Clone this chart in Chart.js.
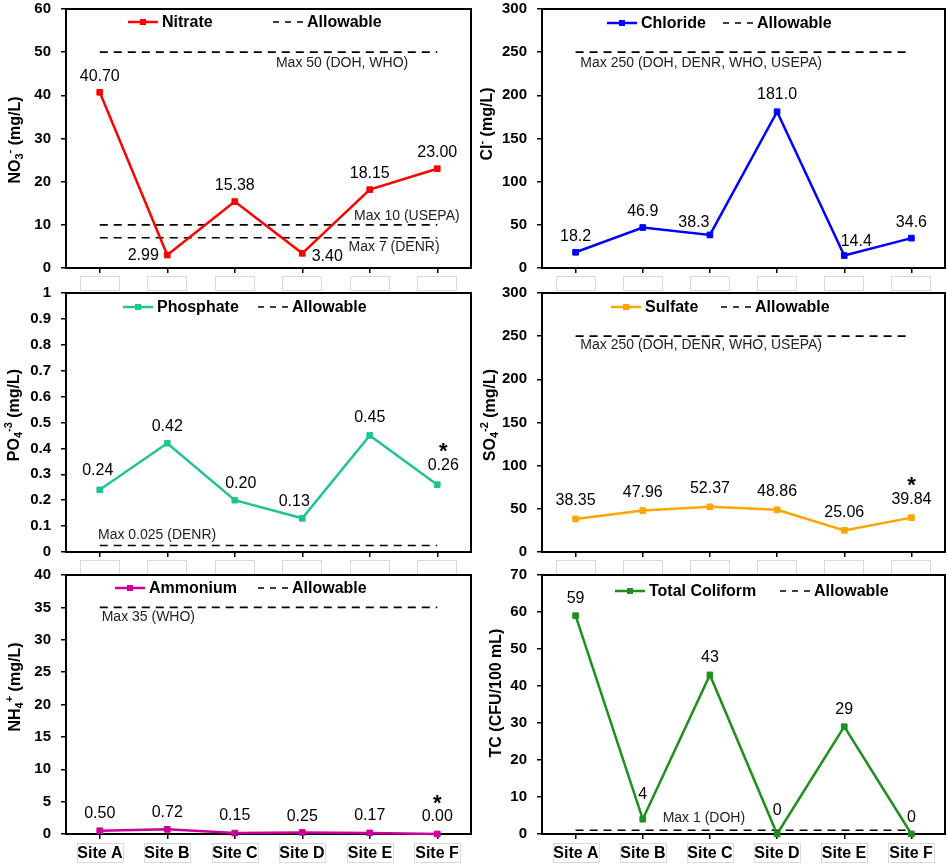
<!DOCTYPE html>
<html>
<head>
<meta charset="utf-8">
<title>Water quality parameters by sampling site</title>
<script src="https://cdn.jsdelivr.net/npm/chart.js@4.4.1/dist/chart.umd.min.js"></script>
<style>
  html, body { margin: 0; padding: 0; background: #fff; }
  body { position: relative; width: 947px; height: 865px; overflow: hidden; }
  canvas { position: absolute; }
</style>
</head>
<body>
<canvas id="nitrate"></canvas>
<canvas id="chloride"></canvas>
<canvas id="phosphate"></canvas>
<canvas id="sulfate"></canvas>
<canvas id="ammonium"></canvas>
<canvas id="coliform"></canvas>
<script>
// ---- data -------------------------------------------------------------
const sites = ['Site A', 'Site B', 'Site C', 'Site D', 'Site E', 'Site F'];

const nitrate   = [40.70, 2.99, 15.38, 3.40, 18.15, 23.00];
const chloride  = [18.2, 46.9, 38.3, 181.0, 14.4, 34.6];
const phosphate = [0.24, 0.42, 0.20, 0.13, 0.45, 0.26];
const sulfate   = [38.35, 47.96, 52.37, 48.86, 25.06, 39.84];
const ammonium  = [0.50, 0.72, 0.15, 0.25, 0.17, 0.00];
const totalColiform = [59, 4, 43, 0, 29, 0];

// allowable limits and their captions
const nitrateLimits = [50, 10, 7];
const nitrateLimitText = ['Max 50 (DOH, WHO)', 'Max 10 (USEPA)', 'Max 7 (DENR)'];
const chlorideLimits = [250];
const chlorideLimitText = ['Max 250 (DOH, DENR, WHO, USEPA)'];
const phosphateLimits = [0.025];
const phosphateLimitText = ['Max 0.025 (DENR)'];
const sulfateLimits = [250];
const sulfateLimitText = ['Max 250 (DOH, DENR, WHO, USEPA)'];
const ammoniumLimits = [35];
const ammoniumLimitText = ['Max 35 (WHO)'];
const coliformLimits = [1];
const coliformLimitText = ['Max 1 (DOH)'];

// y-axis ranges [max, step]
const nitrateAxis = [60, 10];
const chlorideAxis = [300, 50];
const phosphateAxis = [1, 0.1];
const sulfateAxis = [300, 50];
const ammoniumAxis = [40, 5];
const coliformAxis = [70, 10];

// ---- layout -----------------------------------------------------------
const FONT = '"Liberation Sans", Arial, Helvetica, sans-serif';
const cols = [
  { x: 0,   w: 474, axisW: 66, padR: 3 },
  { x: 474, w: 473, axisW: 68, padR: 2 }
];
const rows = [
  { y: 0,   h: 295, padT: 9,  axisH: 27, siteLabels: false },
  { y: 283, h: 295, padT: 10, axisH: 26, siteLabels: false },
  { y: 565, h: 300, padT: 10, axisH: 31, siteLabels: true }
];

// title parts: [text, kind] where kind 0 = normal, 1 = subscript, 2 = superscript
const panels = [
  { id: 'nitrate', col: 0, row: 0, name: 'Nitrate', color: '#FF0000',
    values: nitrate, axis: nitrateAxis, decimals: 2,
    limits: nitrateLimits, limitText: nitrateLimitText,
    limitAt: [[3.59, 11], [4.55, -9], [4.36, 9]],
    labelShift: [[0, -16], [-24, 1], [0, -16], [25, 3], [0, -16], [0, -16]],
    star: false, legendAt: [62, 207, 13],
    title: [['NO', 0], ['3', 1], ['-', 2], [' (mg/L)', 0]], titleAt: [16, 140] },
  { id: 'chloride', col: 1, row: 0, name: 'Chloride', color: '#0000FF',
    values: chloride, axis: chlorideAxis, decimals: 1,
    limits: chlorideLimits, limitText: chlorideLimitText,
    limitAt: [[1.87, 11]],
    labelShift: [[0, -16], [0, -16], [-16, -12], [0, -17], [12, -14], [0, -16]],
    star: false, legendAt: [65, 181, 14],
    title: [['Cl', 0], ['-', 2], [' (mg/L)', 0]], titleAt: [14, 124] },
  { id: 'phosphate', col: 0, row: 1, name: 'Phosphate', color: '#20C494',
    values: phosphate, axis: phosphateAxis, decimals: 2,
    limits: phosphateLimits, limitText: phosphateLimitText,
    limitAt: [[0.85, -10]],
    labelShift: [[-2, -19], [0, -17], [6, -17], [-8, -17], [0, -18], [6, -19]],
    star: true, legendAt: [57, 192, 14],
    title: [['PO', 0], ['4', 1], ['-3', 2], [' (mg/L)', 0]], titleAt: [15, 132] },
  { id: 'sulfate', col: 1, row: 1, name: 'Sulfate', color: '#FFA500',
    values: sulfate, axis: sulfateAxis, decimals: 2,
    limits: sulfateLimits, limitText: sulfateLimitText,
    limitAt: [[1.87, 9]],
    labelShift: [[0, -18], [0, -18], [0, -18], [0, -18], [0, -18], [0, -18]],
    star: true, legendAt: [69, 179, 14],
    title: [['SO', 0], ['4', 1], ['-2', 2], [' (mg/L)', 0]], titleAt: [17, 132] },
  { id: 'ammonium', col: 0, row: 2, name: 'Ammonium', color: '#CC0099',
    values: ammonium, axis: ammoniumAxis, decimals: 2,
    limits: ammoniumLimits, limitText: ammoniumLimitText,
    limitAt: [[0.72, 10]],
    labelShift: [[0, -17], [0, -17], [0, -17], [0, -16], [0, -17], [0, -17]],
    star: true, legendAt: [49, 192, 13],
    title: [['NH', 0], ['4', 1], ['+', 2], [' (mg/L)', 0]], titleAt: [16, 122] },
  { id: 'coliform', col: 1, row: 2, name: 'Total Coliform', color: '#1F8F1F',
    values: totalColiform, axis: coliformAxis, decimals: 0,
    limits: coliformLimits, limitText: coliformLimitText,
    limitAt: [[1.91, -12]],
    labelShift: [[0, -17], [0, -25], [0, -17], [0, -23], [0, -17], [0, -16]],
    star: false, legendAt: [73, 238, 16],
    title: [['TC (CFU/100 mL)', 0]], titleAt: [23, 128] }
];

// ---- drawing helpers --------------------------------------------------
function decorPlugin(p, showSites) {
  return {
    id: 'decor_' + p.id,
    beforeDatasetsDraw(chart) {
      const { ctx, chartArea: a } = chart;
      ctx.save();
      ctx.strokeStyle = '#000';
      ctx.lineWidth = 2;
      ctx.strokeRect(a.left, a.top, a.right - a.left, a.bottom - a.top);
      ctx.restore();
    },
    afterDatasetsDraw(chart) {
      const { ctx, chartArea: a } = chart;
      const x = chart.scales.x, y = chart.scales.y;
      ctx.save();
      ctx.textAlign = 'center';
      ctx.textBaseline = 'middle';

      // captions of the allowable limits
      ctx.font = '14px ' + FONT;
      ctx.fillStyle = '#222';
      p.limits.forEach((v, k) => {
        const [ix, dy] = p.limitAt[k];
        ctx.fillText(p.limitText[k], x.getPixelForValue(ix), y.getPixelForValue(v) + dy);
      });

      // value labels above the points
      ctx.fillStyle = '#000';
      p.values.forEach((v, i) => {
        const [dx, dy] = p.labelShift[i];
        const px = x.getPixelForValue(i) + dx;
        const py = y.getPixelForValue(v) + dy;
        ctx.font = '16px ' + FONT;
        ctx.textBaseline = 'middle';
        ctx.fillText(v.toFixed(p.decimals), px, py);
        if (p.star && i === p.values.length - 1) {
          ctx.font = 'bold 22px ' + FONT;
          ctx.textBaseline = 'alphabetic';
          ctx.fillText('*', px, py - 20 + 12.5);
        }
      });

      // legend inside the plot area
      const [lx, dxs, ly] = p.legendAt;
      const L = a.left + lx, D = a.left + dxs, Y = a.top + ly;
      ctx.strokeStyle = p.color;
      ctx.lineWidth = 2.5;
      ctx.beginPath(); ctx.moveTo(L, Y); ctx.lineTo(L + 30, Y); ctx.stroke();
      ctx.fillStyle = p.color;
      ctx.fillRect(L + 12, Y - 3, 6, 6);
      ctx.fillStyle = '#000';
      ctx.font = 'bold 16px ' + FONT;
      ctx.textAlign = 'left';
      ctx.textBaseline = 'middle';
      ctx.fillText(p.name, L + 34, Y + 1);
      ctx.strokeStyle = '#000';
      ctx.lineWidth = 1.6;
      ctx.setLineDash([6, 6]);
      ctx.beginPath(); ctx.moveTo(D, Y); ctx.lineTo(D + 30, Y); ctx.stroke();
      ctx.setLineDash([]);
      ctx.fillText('Allowable', D + 34, Y + 1);

      // category label boxes
      ctx.strokeStyle = '#d9d9d9';
      ctx.lineWidth = 1;
      ctx.textAlign = 'center';
      sites.forEach((s, i) => {
        const cx = Math.round(x.getPixelForValue(i));
        if (showSites) {
          ctx.strokeRect(cx - 22.5, a.bottom + 9.5, 46, 19);
          ctx.fillStyle = '#000';
          ctx.font = 'bold 16px ' + FONT;
          ctx.fillText(s, cx, a.bottom + 20);
        } else {
          ctx.strokeRect(cx - 19.5, a.bottom + 8.5, 39, 14);
        }
      });

      // rotated y-axis title with sub/superscripts
      const [tx, ty] = p.titleAt;
      ctx.translate(tx, ty);
      ctx.rotate(-Math.PI / 2);
      const big = 'bold 16px ' + FONT, small = 'bold 11px ' + FONT;
      let total = 0;
      p.title.forEach(([t, k]) => { ctx.font = k ? small : big; total += ctx.measureText(t).width; });
      let cx = -total / 2;
      ctx.textAlign = 'left';
      ctx.textBaseline = 'middle';
      ctx.fillStyle = '#000';
      p.title.forEach(([t, k]) => {
        ctx.font = k ? small : big;
        ctx.fillText(t, cx, k === 1 ? 4 : (k === 2 ? -6 : 0));
        cx += ctx.measureText(t).width;
      });
      ctx.restore();
    }
  };
}

function noScalePadding(s) {
  s.paddingTop = 0;
  s.paddingBottom = 0;
  s.paddingLeft = 0;
  s.paddingRight = 0;
}

function buildPanel(p) {
  const c = cols[p.col], r = rows[p.row];
  const canvas = document.getElementById(p.id);
  canvas.width = c.w;
  canvas.height = r.h;
  canvas.style.left = c.x + 'px';
  canvas.style.top = r.y + 'px';

  const datasets = [{
    label: p.name,
    data: p.values,
    borderColor: p.color,
    backgroundColor: p.color,
    borderWidth: 2.5,
    pointStyle: 'rect',
    pointRadius: 4,
    pointHoverRadius: 4,
    pointBorderWidth: 1,
    tension: 0,
    clip: false
  }];
  p.limits.forEach(v => {
    datasets.push({
      label: 'Allowable',
      data: sites.map(() => v),
      borderColor: '#000',
      borderWidth: 1.6,
      borderDash: [8, 6],
      pointRadius: 0,
      pointHoverRadius: 0,
      tension: 0,
      clip: false
    });
  });

  new Chart(canvas, {
    type: 'line',
    data: { labels: sites, datasets },
    options: {
      responsive: false,
      animation: false,
      devicePixelRatio: 1,
      events: [],
      layout: { autoPadding: false, padding: { top: r.padT, right: c.padR, left: 0, bottom: 0 } },
      plugins: { legend: { display: false }, tooltip: { enabled: false } },
      scales: {
        x: {
          offset: true,
          grid: { display: true, drawOnChartArea: false, drawTicks: true, tickLength: 5,
                  color: '#000', lineWidth: 1.5, offset: false },
          border: { display: false },
          ticks: { display: false },
          afterFit(s) { s.height = r.axisH; noScalePadding(s); }
        },
        y: {
          min: 0,
          max: p.axis[0],
          grid: { display: true, drawOnChartArea: false, drawTicks: true, tickLength: 5,
                  color: '#000', lineWidth: 1.5 },
          border: { display: false },
          ticks: {
            stepSize: p.axis[1],
            padding: 10,
            color: '#000',
            font: { family: FONT, size: 15, weight: 'bold' },
            callback: v => String(Math.round(v * 1000) / 1000)
          },
          afterFit(s) { s.width = c.axisW; noScalePadding(s); }
        }
      }
    },
    plugins: [decorPlugin(p, r.siteLabels)]
  });
}

panels.forEach(buildPanel);
</script>
</body>
</html>
